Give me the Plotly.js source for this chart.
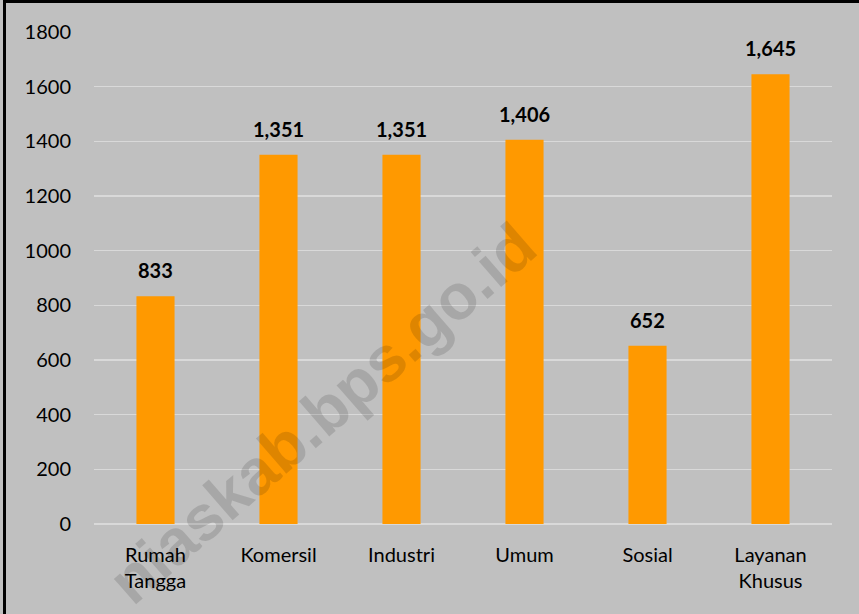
<!DOCTYPE html>
<html>
<head>
<meta charset="utf-8">
<script src="https://cdn.plot.ly/plotly-3.0.1.min.js"></script>
<style>
  html, body { margin: 0; padding: 0; background: #c0c0c0; }
  #chart { width: 859px; height: 614px; }
  #frame { position: absolute; left: 3px; top: 0px; width: 900px; height: 700px;
           border-left: 3px solid #000; border-top: 3px solid #000; pointer-events: none; box-sizing: border-box; }
</style>
</head>
<body>
<div id="chart"></div>
<div id="frame"></div>
<script>
const categories = ["Rumah<br>Tangga", "Komersil", "Industri", "Umum", "Sosial", "Layanan<br>Khusus"];
const values = [833, 1351, 1351, 1406, 652, 1645];
const valueLabels = ["833", "1,351", "1,351", "1,406", "652", "1,645"];
const yTicks = [0, 200, 400, 600, 800, 1000, 1200, 1400, 1600, 1800];

const font = "Lato, 'Open Sans', sans-serif";

const trace = {
  type: "bar",
  x: categories,
  y: values,
  marker: { color: "#ff9900" },
  width: 0.31,
  hoverinfo: "none"
};

const labelAnns = categories.map((c, i) => ({
  x: c, y: values[i], xref: "x", yref: "y",
  text: "<b>" + valueLabels[i] + "</b>",
  showarrow: false, yanchor: "bottom", yshift: 12,
  font: { family: font, size: 20, color: "#000" }
}));

const watermark = {
  xref: "paper", yref: "paper", x: 0.31, y: 0.225,
  xanchor: "center", yanchor: "middle",
  text: "<b>niaskab.bps.go.id</b>",
  showarrow: false, textangle: -41,
  font: { family: "'Liberation Sans', Arial, sans-serif", size: 64, color: "rgba(0,0,0,0.13)" }
};

const layout = {
  width: 859, height: 614,
  margin: { l: 94, r: 27, t: 32, b: 90 },
  paper_bgcolor: "#c0c0c0",
  plot_bgcolor: "#c0c0c0",
  showlegend: false,
  bargap: 0.69,
  xaxis: {
    type: "category",
    showgrid: false, zeroline: false, showline: false, ticks: "",
    tickfont: { family: font, size: 20, color: "#000" },
    ticklabelstandoff: 17
  },
  yaxis: {
    range: [0, 1800],
    tickvals: yTicks,
    ticktext: yTicks.map(String),
    showgrid: true, gridcolor: "#d9d9d9", gridwidth: 1.5,
    zeroline: true, zerolinecolor: "#d9d9d9", zerolinewidth: 1.5,
    showline: false, ticks: "",
    tickfont: { family: font, size: 20, color: "#000" },
    ticklabelstandoff: 22
  },
  annotations: labelAnns.concat([watermark])
};

Plotly.newPlot("chart", [trace], layout, { displayModeBar: false, staticPlot: true });
</script>
</body>
</html>
